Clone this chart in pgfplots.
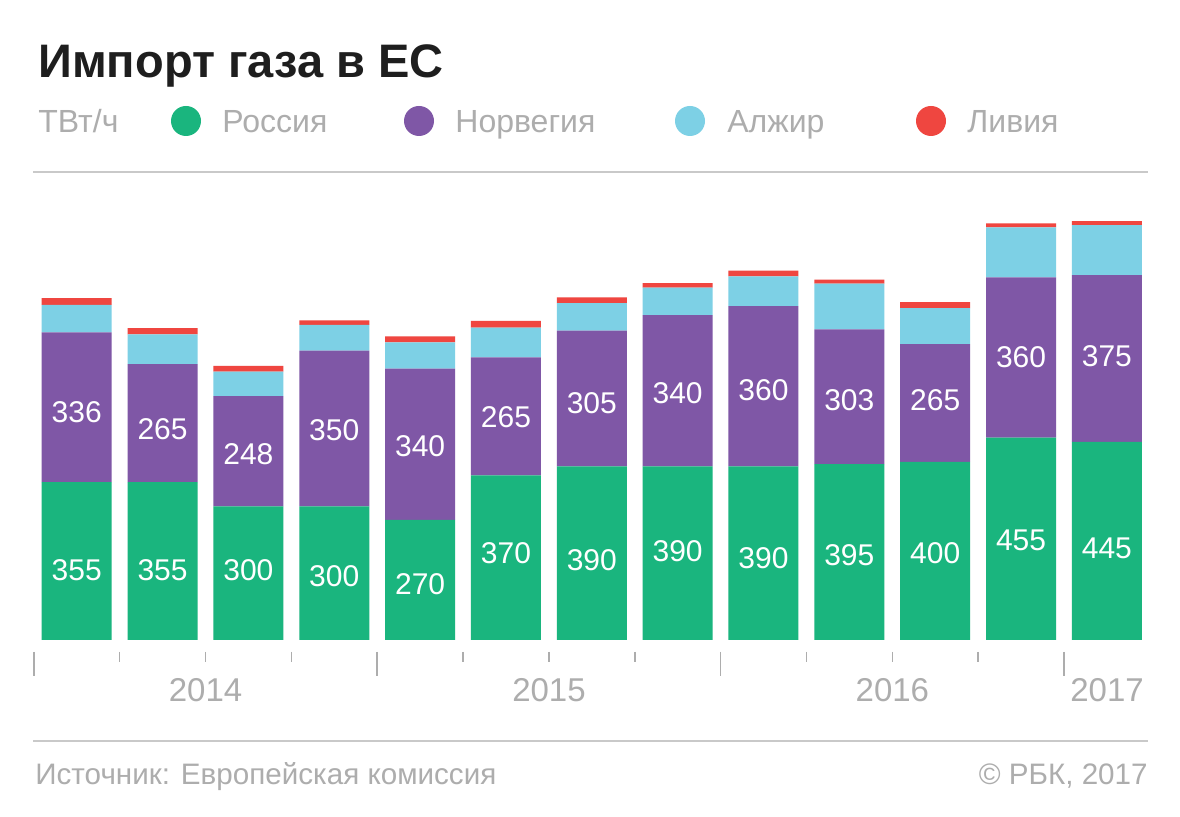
\documentclass[border=0pt]{standalone}
\usepackage{pgfplots}
\usepackage{pgfplotstable}
\pgfplotsset{compat=1.18}
\usepackage{fontspec}
\setmainfont{Liberation Sans}
\definecolor{cR}{HTML}{1AB57E}
\definecolor{cN}{HTML}{7F57A6}
\definecolor{cA}{HTML}{7DD0E5}
\definecolor{cL}{HTML}{EF4640}
\definecolor{txtgrey}{HTML}{ADADAD}
\definecolor{linegrey}{HTML}{C9C9C9}
\definecolor{titleblack}{HTML}{1E1E1E}

% values; ry / ny = vertical position of the value labels (data units)
\pgfplotstableread{
x rus nor alg lib ry ny
0 355 336 62 15 157 512
1 355 265 67 14 157 473
2 300 248 55 13 157 418
3 300 350 58 10 144 472
4 270 340 59 13 126 436
5 370 265 67 15 195 500
6 390 305 62 13 180 532
7 390 340 62 10 200 554
8 390 360 67 13 183 562
9 395 303 103 9 191 539
10 400 265 81 13 195 538
11 455 360 112 9 225 635
12 445 375 112 9 206 638
}\gasdata

\pgfplotsset{
  mybase/.style={at={(16.9pt,88.5pt)}, anchor=south west, scale only axis,
    width=558pt, height=222.5pt, xmin=-0.5, xmax=12.5, ymin=0, ymax=1000,
    axis lines=none, clip=false},
  lbl/.style={draw=none, mark=none, nodes near coords, point meta=explicit symbolic,
    every node near coord/.append style={anchor=center, text=white, inner sep=0,
      font=\fontsize{15}{18}\selectfont}},
}

\begin{document}
\begin{tikzpicture}
\fill[white] (0,0) rectangle (590pt,408.5pt);
% title
\node[anchor=base west, font=\fontsize{23.5}{28}\selectfont\bfseries, text=titleblack, inner sep=0] at (19pt,369.5pt) {Импорт газа в ЕС};
% legend
\begin{scope}[every node/.style={anchor=base west, inner sep=0, text=txtgrey, font=\fontsize{16}{19}\selectfont}]
\node at (19pt,342.25pt) {ТВт/ч};
\fill[cR] (93pt,348pt) circle (7.5pt);
\node at (111pt,342.25pt) {Россия};
\fill[cN] (209.5pt,348pt) circle (7.5pt);
\node at (227.5pt,342.25pt) {Норвегия};
\fill[cA] (345pt,348pt) circle (7.5pt);
\node at (363.5pt,342.25pt) {Алжир};
\fill[cL] (465.5pt,348pt) circle (7.5pt);
\node at (483.5pt,342.25pt) {Ливия};
\end{scope}
% rules
\draw[linegrey, line width=1pt] (16.5pt,322.5pt) -- (574pt,322.5pt);
\draw[linegrey, line width=1pt] (16.5pt,38pt) -- (574pt,38pt);
% footer
\node[anchor=base west, inner sep=0, text=txtgrey, font=\fontsize{14.8}{17}\selectfont] at (17.5pt,16.2pt) {Источник: Европейская комиссия};
\node[anchor=base east, inner sep=0, text=txtgrey, font=\fontsize{14.8}{17}\selectfont] at (574pt,16.2pt) {© РБК, 2017};

\begin{axis}[mybase, ybar stacked, bar width=35pt]
\addplot[fill=cR, draw=none] table[x=x,y=rus]{\gasdata};
\addplot[fill=cN, draw=none] table[x=x,y=nor]{\gasdata};
\addplot[fill=cA, draw=none] table[x=x,y=alg]{\gasdata};
\addplot[fill=cL, draw=none] table[x=x,y=lib]{\gasdata};
\end{axis}

\begin{axis}[mybase]
\addplot[lbl] table[x=x, y=ry, meta=rus]{\gasdata};
\addplot[lbl] table[x=x, y=ny, meta=nor]{\gasdata};
\end{axis}

% tick marks and year labels (axis x: -0.5 at 16.9pt, 42.93pt per unit; baseline at 88.5pt)
\foreach \t in {1,2,3,5,6,7,9,10,11}{
  \draw[txtgrey, line width=0.8pt] ({16.9pt+\t*42.93pt},82.5pt) -- ++(0,-5pt);
}
\foreach \t in {0,4,8,12}{
  \draw[txtgrey, line width=0.8pt] ({16.9pt+\t*42.93pt},82.5pt) -- ++(0,-12pt);
}
\begin{scope}[every node/.style={text=txtgrey, font=\fontsize{16.5}{19}\selectfont, inner sep=0, anchor=center}]
\node at ({16.9pt+2*42.93pt},63.5pt) {2014};
\node at ({16.9pt+6*42.93pt},63.5pt) {2015};
\node at ({16.9pt+10*42.93pt},63.5pt) {2016};
\node at ({16.9pt+12.5*42.93pt},63.5pt) {2017};
\end{scope}
\end{tikzpicture}
\end{document}
